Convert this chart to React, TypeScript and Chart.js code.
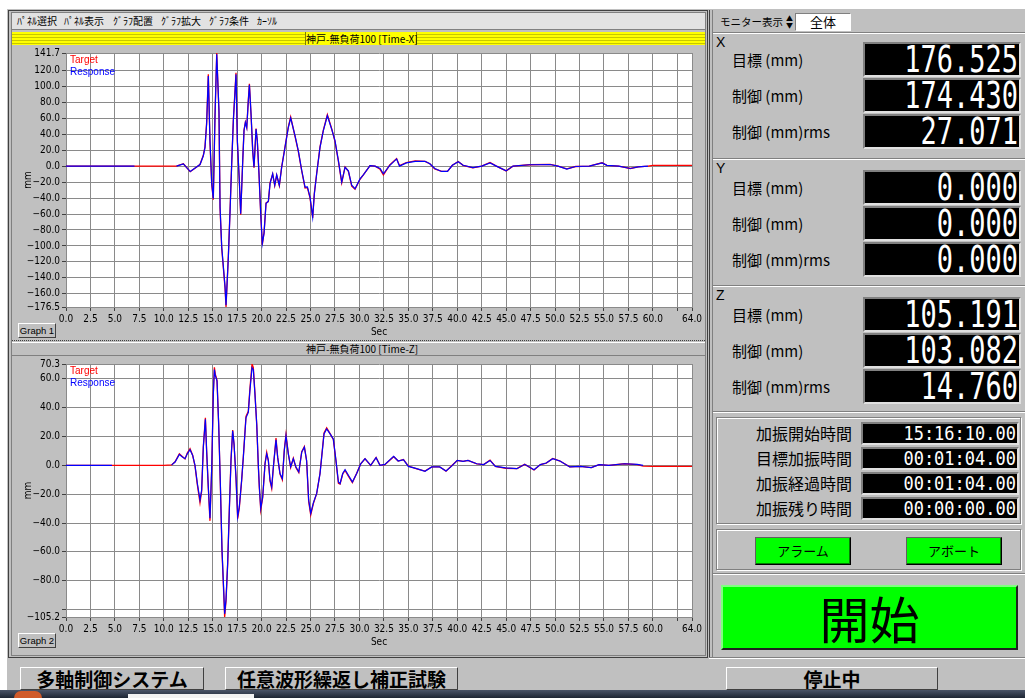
import React, { useEffect, useRef } from "react";
import { Chart, registerables } from "chart.js";

Chart.register(...registerables);

// ---------- data ----------
const secTicks = [0, 2.5, 5, 7.5, 10, 12.5, 15, 17.5, 20, 22.5, 25, 27.5, 30, 32.5, 35, 37.5, 40, 42.5, 45, 47.5, 50, 52.5, 55, 57.5, 60, 62.5, 64];
const secHidden = [62.5];

const mmTicksX = [141.7, 120, 100, 80, 60, 40, 20, 0, -20, -40, -60, -80, -100, -120, -140, -160, -176.5];
const mmHiddenX: number[] = [];
const mmTicksZ = [70.3, 60, 40, 20, 0, -20, -40, -60, -80, -100, -105.2];
const mmHiddenZ = [-100];

const timeX = [
  0, 7, 7.5, 11.3, 12.0, 12.7, 13.7, 14.04, 14.21, 14.38,
  14.55, 14.72, 14.9, 15.06, 15.23, 15.41, 15.64, 15.75, 15.92, 16.26,
  16.36, 16.6, 16.77, 16.94, 17.11, 17.38, 17.52, 17.72, 17.86, 18.07,
  18.2, 18.34, 18.48, 18.64, 18.75, 18.92, 19.09, 19.22, 19.43, 19.56,
  19.73, 19.91, 20.07, 20.25, 20.45, 20.69, 20.86, 21.13, 21.34, 21.54,
  21.81, 22.05, 22.39, 22.73, 22.97, 23.42, 23.75, 24.1, 24.44, 24.68,
  24.95, 25.22, 25.39, 25.63, 25.97, 26.31, 26.72, 27.17, 27.5, 27.85,
  28.19, 28.53, 28.87, 29.21, 29.55, 30.06, 30.4, 31.08, 31.6, 32.11,
  32.45, 33.1, 33.8, 34.1, 34.8, 35.7, 36.7, 37.2, 37.7, 38.4,
  39.0, 39.5, 40.1, 40.6, 41.6, 42.5, 43.35, 44.0, 45.0, 45.7,
  47.4, 49.5, 50.3, 51.2, 52.1, 53.5, 54.8, 55.3, 56.5, 57.7,
  58.5, 59.5, 60, 64,
];
const targetX = [
  0, 0, 0, 0, 3, -7, 2, 13.5, 24, 55,
  115, 30, -23, -42, 62, 141.7, 67, -53, -103, -153,
  -176.5, -112, -56, 3, 58, 117, 30, -19, -61, 7.5,
  45, 55, 48.5, 83, 103, 64, 18.5, -2, 47, 31,
  -10, -61, -98.5, -83, -46, -44.5, -21, -10, -24.5, -11.5,
  -24.5, -1, 24, 49, 61.5, 37, 18.5, -6, -27.5, -27,
  -40, -65, -34, -9, 24, 45, 64.5, 46.5, 31, 6,
  -21, -1, -6.5, -25, -29, -16.5, -11, 0.5, 0, -4,
  -11, 1.5, 9.5, 0.5, 4.5, 6.5, 6, 3, -3.5, -6.5,
  -6.5, 1, 5.8, 1, -2.2, 0, 4.5, 0, -6, 0,
  1.7, 2.2, 0, -3.5, -0.5, 0, 4.2, 1, 0, -3,
  -1, 0, 0.8, 0.8,
];
const responseX = [
  0, 0, null, 0, 2.8, -6.8, 2, 13, 23.5, 53,
  113, 32, -22, -40.8, 60, 140, 69, -51, -101, -151,
  -174.4, -113.7, -57.6, 2.8, 56.8, 115, 32, -18, -59.6, 6.9,
  44.4, 54.7, 48, 81.8, 101.8, 65, 19.4, -1.4, 46.5, 32,
  -9.3, -59.6, -97, -84, -47, -44, -22, -9.6, -24, -11,
  -24, -1.4, 23.5, 48.5, 60.2, 38, 19.4, -5.5, -26.4, -26,
  -38.9, -63.8, -35, -9.6, 23.5, 44.4, 63.1, 46, 32, 6.9,
  -20, -1.4, -6, -24, -28.4, -16, -11, 0.7, 0, -3,
  -9.6, 1, 9, 0, 4, 6, 6, 3, -3, -6.7,
  -6.5, 1, 5.4, 1, -2, 0, 4, 0, -6, 0,
  1.7, 2, 0, -3.7, -0.5, 0, 4, 1, 0, -3,
  -1, 0, null, null,
];

const timeZ = [
  0, 4.7, 5, 10.0, 10.8, 11.15, 11.59, 11.83, 12.17, 12.4,
  12.68, 12.95, 13.19, 13.43, 13.7, 13.87, 14.04, 14.25, 14.38, 14.55,
  14.72, 14.9, 15.06, 15.17, 15.27, 15.34, 15.44, 15.61, 15.78, 15.95,
  16.12, 16.22, 16.36, 16.53, 16.7, 16.87, 17.04, 17.18, 17.38, 17.55,
  17.72, 17.96, 18.13, 18.4, 18.64, 18.8, 19.02, 19.15, 19.32, 19.5,
  19.67, 19.77, 19.91, 20.11, 20.35, 20.52, 20.69, 20.86, 21.03, 21.2,
  21.47, 21.64, 21.88, 22.12, 22.32, 22.49, 22.73, 22.97, 23.24, 23.5,
  23.8, 24.1, 24.37, 24.6, 24.81, 25.02, 25.29, 25.63, 25.97, 26.14,
  26.38, 26.65, 27.0, 27.33, 27.6, 27.85, 28.02, 28.29, 28.53, 28.87,
  29.28, 29.72, 30.13, 30.57, 31.15, 31.7, 32.1, 32.6, 33.5, 33.96,
  34.5, 35.0, 35.86, 36.7, 37.4, 38.2, 38.85, 39.4, 40.0, 40.6,
  41.1, 42.0, 42.7, 43.35, 43.9, 44.95, 46.1, 46.9, 47.85, 48.5,
  49.1, 49.76, 50.5, 51.5, 52.6, 53.7, 54.5, 55.5, 57.1, 58.4,
  59.0, 60, 64,
];
const targetZ = [
  0, 0, 0, 0, 0.3, 2.5, 8, 6.5, 4.4, 8.5,
  11.5, 7, -0.5, -13.5, -26, -18, 13, 33, 9.5, -16,
  -38.5, -2, 50, 68, 63, 61.5, 59, 28, -13.5, -60,
  -88, -105.2, -94, -68, -30, 4, 24.5, 14.5, -9, -37,
  -29.5, -10.5, 6, 34, 37.5, 53, 70.3, 68, 50, 28,
  -2, -16, -31, -22.5, 1.5, 9, 3, -11, -16, -1.5,
  19, 5.5, -6, -10, 11, 21.5, 8, -1.5, 5, -1.5,
  -5, 9.5, 13, 3, -25, -34.5, -26.5, -19.5, -5.5, 6,
  22.5, 26, 22, 18, 3, -12.5, -13, -6, -3.5, -7.5,
  -12, -5.5, 1, 4.5, 0, 5.5, 0, 0.5, 6, 3,
  4, -0.5, -2.5, -4, -1, -1, -4, -0.5, 3.4, 2.7,
  3.4, 1, 0.5, 3.6, -0.7, -2, -2.3, 0.7, -3.2, 0.5,
  1.6, 4.8, 3, -1.1, -0.7, -1.6, 0.5, 0, 1.1, 0.5,
  -0.5, -0.7, -0.7,
];
const responseZ = [
  0, 0, null, null, 0.3, 2.3, 7.6, 6.2, 4.6, 8,
  10.8, 6.9, 0, -12.6, -24, -17, 12.6, 32, 10, -15,
  -36.7, -1, 49, 66.5, 62, 60.8, 58.5, 28.7, -12.6, -58.5,
  -86, -103, -92.9, -67.7, -31, 3.4, 24, 15, -8, -35.5,
  -28.7, -10, 5.7, 33, 36.7, 51.6, 67.7, 66.5, 49, 28.7,
  -1, -15, -29.8, -21.8, 1.1, 8, 3.4, -10.3, -15, -1,
  17.7, 5.7, -5.7, -9.2, 10.3, 20.6, 8, -1, 4.6, -1,
  -4.6, 9.2, 12.6, 3.4, -24, -33.3, -26, -19.5, -5.7, 5.7,
  21.8, 25.2, 21.8, 18.3, 3.4, -11.5, -12.6, -5.7, -3, -6.9,
  -11.5, -5.7, 1.1, 4.6, 0, 5.3, 0, 0.7, 6.2, 3,
  3.9, -0.7, -2.3, -4.1, -1.1, -1.1, -3.9, -0.7, 3.4, 2.7,
  3.4, 1.1, 0.5, 3.4, -0.7, -1.8, -2.3, 0.7, -3, 0.5,
  1.6, 4.6, 3, -1.1, -0.7, -1.6, 0.5, 0, 1.1, 0.7,
  0, null, null,
];

// ---------- UI text ----------
const menuItems = ["ﾊﾟﾈﾙ選択", "ﾊﾟﾈﾙ表示", "ｸﾞﾗﾌ配置", "ｸﾞﾗﾌ拡大", "ｸﾞﾗﾌ条件", "ｶｰｿﾙ"];
const menuX = [17, 64, 113, 161, 209, 257];
const monitorRows = ["目標 (mm)", "制御 (mm)", "制御 (mm)rms"];
const monitorSections = [
  { axis: "X", labelY: 35, tops: [42, 78, 114], values: ["176.525", "174.430", "27.071"] },
  { axis: "Y", labelY: 161, tops: [170, 206, 242], values: ["0.000", "0.000", "0.000"] },
  { axis: "Z", labelY: 288, tops: [297, 333, 369], values: ["105.191", "103.082", "14.760"] },
];
const timeRows = [
  ["加振開始時間", "15:16:10.00"],
  ["目標加振時間", "00:01:04.00"],
  ["加振経過時間", "00:01:04.00"],
  ["加振残り時間", "00:00:00.00"],
];
const timeTops = [422, 447, 472, 497];

const TICK_FONT = "'Liberation Sans Narrow', 'DejaVu Sans Condensed', 'Arial Narrow', sans-serif";
const JP = "'Noto Sans CJK JP', 'Noto Sans CJK SC', sans-serif";
const GRAY = "#c0c0c0";

const plotDecor = {
  id: "plotDecor",
  beforeDraw(chart: any) {
    const { ctx, chartArea: a } = chart;
    ctx.save();
    ctx.fillStyle = "#ffffff";
    ctx.fillRect(a.left, a.top, a.right - a.left, a.bottom - a.top);
    ctx.restore();
  },
  afterDatasetsDraw(chart: any) {
    const { ctx, chartArea: a } = chart;
    ctx.save();
    ctx.font = "10px 'Liberation Sans', Arial, sans-serif";
    ctx.textBaseline = "middle";
    ctx.textAlign = "left";
    chart.data.datasets.forEach((ds: any, i: number) => {
      ctx.fillStyle = ds.borderColor;
      ctx.fillText(ds.label, a.left + 4, a.top + 7 + i * 12);
    });
    ctx.restore();
  },
};

const fmt = (v: number) => (v < 0 ? "\u2212" : "") + Math.abs(v).toFixed(1);

function WaveChart(props: any) {
  const { left, top, width, height, padTop, times, target, response, yMin, yMax, yTicks, yHidden } = props;
  const ref = useRef<HTMLCanvasElement>(null);
  useEffect(() => {
    const tickFont = { family: TICK_FONT, size: 10 };
    const chart = new Chart(ref.current as HTMLCanvasElement, {
      type: "line",
      data: {
        datasets: [
          {
            label: "Target",
            data: times.map((t: number, i: number) => ({ x: t, y: target[i] })),
            borderColor: "#ff0000",
            borderWidth: 1.3,
            pointRadius: 0,
            order: 1,
          },
          {
            label: "Response",
            data: times.map((t: number, i: number) => ({ x: t, y: response[i] })),
            borderColor: "#0000ff",
            borderWidth: 1.2,
            pointRadius: 0,
            order: 0,
          },
        ],
      },
      options: {
        animation: false,
        responsive: false,
        maintainAspectRatio: false,
        spanGaps: false,
        layout: { padding: { left: 0, right: 13, top: padTop, bottom: 0 } },
        plugins: { legend: { display: false }, tooltip: { enabled: false } },
        elements: { line: { tension: 0 } },
        scales: {
          x: {
            type: "linear",
            min: 0,
            max: 64,
            afterBuildTicks: (s: any) => {
              s.ticks = secTicks.map((v) => ({ value: v }));
            },
            afterFit: (s: any) => {
              s.height = 31;
            },
            ticks: {
              autoSkip: false,
              maxRotation: 0,
              padding: 2,
              color: "#000",
              font: tickFont,
              callback: (v: any) => (secHidden.includes(Number(v)) ? "" : Number(v).toFixed(1)),
            },
            grid: { color: "#8a8a8a", lineWidth: 1, tickLength: 4, tickColor: "#404040" },
            border: { color: "#8a8a8a" },
            title: { display: true, text: "Sec", color: "#000", font: tickFont, padding: { top: 2, bottom: 0 } },
          },
          y: {
            type: "linear",
            min: yMin,
            max: yMax,
            afterBuildTicks: (s: any) => {
              s.ticks = yTicks.map((v: number) => ({ value: v }));
            },
            afterFit: (s: any) => {
              s.width = 54;
            },
            ticks: {
              autoSkip: false,
              padding: 2,
              color: "#000",
              font: tickFont,
              callback: (v: any) => (yHidden.includes(Number(v)) ? "" : fmt(Number(v))),
            },
            grid: { color: "#8a8a8a", lineWidth: 1, tickLength: 4, tickColor: "#404040" },
            border: { color: "#8a8a8a" },
            title: { display: true, text: "mm", color: "#000", font: tickFont, padding: { top: 10, bottom: 0 } },
          },
        },
      } as any,
      plugins: [plotDecor],
    });
    return () => chart.destroy();
  }, []);
  return (
    <canvas
      ref={ref}
      width={width}
      height={height}
      style={{ position: "absolute", left, top, width, height, background: GRAY }}
    />
  );
}

const A = ({ x, y, w, h, style, children }: any) => (
  <div style={{ position: "absolute", left: x, top: y, width: w, height: h, boxSizing: "border-box", ...style }}>
    {children}
  </div>
);

const raised = { borderStyle: "solid", borderWidth: 1, borderColor: "#ffffff #404040 #404040 #ffffff" };
const sunken = { borderStyle: "solid", borderWidth: 1, borderColor: "#808080 #ffffff #ffffff #808080" };

function Digital({ x, y, w, h, text, size, sy }: any) {
  return (
    <A
      x={x}
      y={y}
      w={w}
      h={h}
      style={{
        background: "#000",
        borderStyle: "solid",
        borderWidth: 2,
        borderColor: "#808080 #e0e0e0 #e0e0e0 #808080",
        display: "flex",
        alignItems: "center",
        justifyContent: "flex-end",
        paddingRight: 1,
        overflow: "hidden",
      }}
    >
      <span
        style={{
          color: "#fff",
          fontFamily: "'DejaVu Sans Mono', monospace",
          fontSize: size,
          lineHeight: 1,
          display: "inline-block",
          transform: `scaleY(${sy})`,
          whiteSpace: "pre",
        }}
      >
        {text}
      </span>
    </A>
  );
}

function HSep({ y }: any) {
  return (
    <>
      <A x={713} y={y} w={312} h={1} style={{ background: "#808080" }} />
      <A x={713} y={y + 1} w={312} h={1} style={{ background: "#ffffff" }} />
    </>
  );
}

const graphBtn = {
  ...raised,
  fontSize: 9.5,
  lineHeight: "13px",
  textAlign: "center",
  whiteSpace: "nowrap",
  overflow: "visible",
  fontFamily: "'Liberation Sans', Arial, sans-serif",
  background: GRAY,
};

export default function App() {
  return (
    <div
      style={{
        position: "fixed",
        left: 0,
        top: 0,
        width: 1025,
        height: 698,
        overflow: "hidden",
        background: "#ffffff",
        fontFamily: JP,
        color: "#000",
      }}
    >
      {/* window */}
      <A x={7} y={9} w={1018} h={682} style={{ background: GRAY }} />

      {/* left panel frame */}
      <A x={8} y={10} w={700} h={648} style={{ border: "1px solid #404040" }} />
      <A x={11} y={12} w={695} h={644} style={{ border: "1px solid #808080" }} />

      {/* menu bar */}
      <A x={12} y={13} w={693} h={16} style={{ background: "#e2e2e2" }} />
      {menuItems.map((m, i) => (
        <A key={m} x={menuX[i]} y={13} w={50} h={16} style={{ fontSize: 10, lineHeight: "16px", whiteSpace: "nowrap" }}>
          {m}
        </A>
      ))}
      <A x={12} y={29} w={693} h={1} style={{ background: "#808080" }} />

      {/* yellow title bar */}
      <A
        x={12}
        y={32}
        w={693}
        h={13}
        style={{
          background: "repeating-linear-gradient(to bottom, #ffff00 0px, #ffff00 2px, #c8c800 2px, #c8c800 3px)",
        }}
      />
      <A
        x={305}
        y={32}
        w={112}
        h={13}
        style={{
          background: "#ffff00",
          borderLeft: "1px solid #808000",
          borderRight: "1px solid #808000",
          fontSize: 10,
          lineHeight: "13px",
          textAlign: "center",
          whiteSpace: "nowrap",
        }}
      >
        神戸-無負荷100 [Time-X]
      </A>

      {/* chart 1 */}
      <WaveChart
        left={12}
        top={45}
        width={693}
        height={293}
        padTop={7}
        times={timeX}
        target={targetX}
        response={responseX}
        yMin={-176.5}
        yMax={141.7}
        yTicks={mmTicksX}
        yHidden={mmHiddenX}
      />
      <A x={18} y={323} w={38} h={15} style={graphBtn}>
        Graph 1
      </A>

      {/* separator between charts */}
      <A x={12} y={340} w={693} h={1} style={{ borderTop: "1px dotted #404040" }} />
      <A x={12} y={342} w={693} h={1} style={{ background: "#ffffff" }} />
      <A x={306} y={343} w={112} h={12} style={{ fontSize: 10, lineHeight: "12px", textAlign: "center", whiteSpace: "nowrap" }}>
        神戸-無負荷100 [Time-Z]
      </A>
      <A x={12} y={355} w={693} h={1} style={{ background: "#808080" }} />

      {/* chart 2 */}
      <WaveChart
        left={12}
        top={356}
        width={693}
        height={292}
        padTop={6}
        times={timeZ}
        target={targetZ}
        response={responseZ}
        yMin={-105.2}
        yMax={70.3}
        yTicks={mmTicksZ}
        yHidden={mmHiddenZ}
      />
      <A x={18} y={633} w={38} h={15} style={graphBtn}>
        Graph 2
      </A>

      {/* right panel */}
      <A x={709} y={10} w={1} h={648} style={{ background: "#404040" }} />
      <A x={712} y={10} w={1} h={648} style={{ background: "#808080" }} />

      <A x={720} y={13} w={70} h={17} style={{ fontSize: 10.5, lineHeight: "17px", whiteSpace: "nowrap" }}>
        モニター表示
      </A>
      <A x={786} y={15} w={7} h={14} style={{ fontSize: 7, lineHeight: "7px", textAlign: "center" }}>
        <div>▲</div>
        <div>▼</div>
      </A>
      <A x={795} y={13} w={56} h={18} style={{ ...sunken, background: "#fff", fontSize: 13, lineHeight: "16px", textAlign: "center" }}>
        全体
      </A>
      <HSep y={32} />

      {monitorSections.map((s) => (
        <React.Fragment key={s.axis}>
          <A x={716} y={s.labelY} w={14} h={14} style={{ fontFamily: "'Liberation Sans', Arial, sans-serif", fontSize: 14, lineHeight: "14px" }}>
            {s.axis}
          </A>
          {monitorRows.map((r, i) => (
            <React.Fragment key={r}>
              <A x={732} y={s.tops[i]} w={125} h={35} style={{ fontSize: 15, lineHeight: "35px", whiteSpace: "pre" }}>
                {r}
              </A>
              <Digital x={863} y={s.tops[i]} w={158} h={35} text={s.values[i]} size={27} sy={1.35} />
            </React.Fragment>
          ))}
        </React.Fragment>
      ))}
      <HSep y={158} />
      <HSep y={285} />
      <HSep y={411} />

      {/* time panel */}
      <A x={716} y={417} w={305} h={107} style={{ border: "1px solid #808080", boxShadow: "inset 1px 1px 0 #ffffff, 1px 1px 0 #ffffff" }} />
      {timeRows.map((r, i) => (
        <React.Fragment key={r[0]}>
          <A x={716} y={timeTops[i]} w={136} h={23} style={{ fontSize: 16, lineHeight: "23px", textAlign: "right", whiteSpace: "nowrap" }}>
            {r[0]}
          </A>
          <Digital x={861} y={timeTops[i]} w={158} h={23} text={r[1]} size={17} sy={1.12} />
        </React.Fragment>
      ))}

      {/* alarm / abort */}
      <A x={716} y={529} w={305} h={41} style={{ border: "1px solid #808080", boxShadow: "inset 1px 1px 0 #ffffff, 1px 1px 0 #ffffff" }} />
      <A x={755} y={537} w={96} h={28} style={{ background: "#00ff00", borderStyle: "solid", borderWidth: 1, borderColor: "#606060 #000 #000 #606060", boxShadow: "inset -1px -1px 0 #008000", fontSize: 13, lineHeight: "26px", textAlign: "center" }}>
        アラーム
      </A>
      <A x={906} y={537} w={96} h={28} style={{ background: "#00ff00", borderStyle: "solid", borderWidth: 1, borderColor: "#606060 #000 #000 #606060", boxShadow: "inset -1px -1px 0 #008000", fontSize: 13, lineHeight: "26px", textAlign: "center" }}>
        アボート
      </A>
      <HSep y={573} />

      {/* start button */}
      <A x={721} y={585} w={297} h={65} style={{ background: "#00ff00", borderStyle: "solid", borderWidth: 2, borderColor: "#80ff80 #202020 #202020 #80ff80", fontSize: 50, lineHeight: "60px", textAlign: "center" }}>
        開始
      </A>
      <A x={709} y={657} w={316} h={1} style={{ background: "#808080" }} />
      <A x={709} y={658} w={316} h={1} style={{ background: "#ffffff" }} />

      {/* status bar */}
      <A x={20} y={667} w={184} h={23} style={{ ...raised, fontSize: 19, fontWeight: 700, lineHeight: "21px", textAlign: "center", whiteSpace: "nowrap" }}>
        多軸制御システム
      </A>
      <A x={225} y={667} w={233} h={23} style={{ ...raised, fontSize: 19, fontWeight: 700, lineHeight: "21px", textAlign: "center", whiteSpace: "nowrap" }}>
        任意波形繰返し補正試験
      </A>
      <A x={726} y={667} w={212} h={23} style={{ ...raised, fontSize: 19, fontWeight: 700, lineHeight: "21px", textAlign: "center", whiteSpace: "nowrap" }}>
        停止中
      </A>

      {/* taskbar strip */}
      <A x={0} y={690} w={1025} h={8} style={{ background: "linear-gradient(to bottom, #4a5468, #1e2634)" }} />
      <A x={14} y={691} w={28} h={14} style={{ background: "#d05a2a", borderRadius: 14 }} />
      <A x={128} y={694} w={126} h={4} style={{ background: "#f2f2f2" }} />
    </div>
  );
}
